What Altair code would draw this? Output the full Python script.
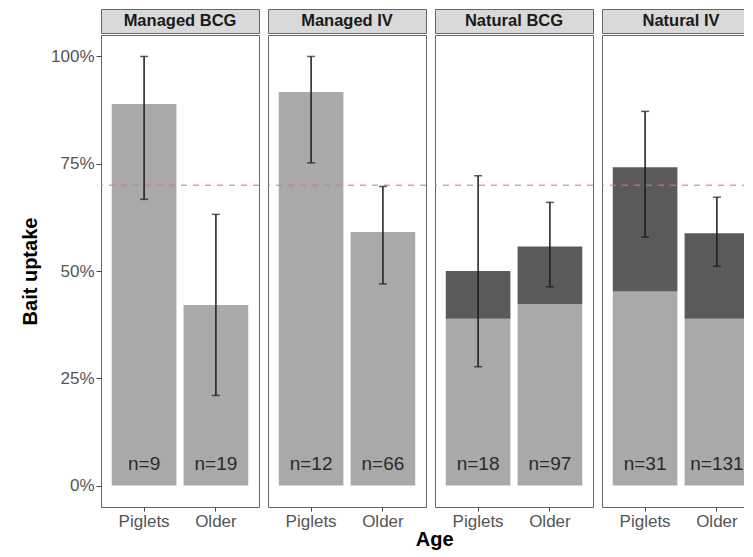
import altair as alt
import pandas as pd

# ---- data ----
panel_names = ["Managed BCG", "Managed IV", "Natural BCG", "Natural IV"]
age_groups = ["Piglets", "Older"]
panel_col = ["Managed BCG", "Managed BCG", "Managed IV", "Managed IV",
             "Natural BCG", "Natural BCG", "Natural IV", "Natural IV"]
age_col = ["Piglets", "Older"] * 4
uptake = [0.889, 0.421, 0.917, 0.591, 0.500, 0.557, 0.742, 0.588]
lower_part = [0.889, 0.421, 0.917, 0.591, 0.389, 0.423, 0.452, 0.389]
ci_low = [0.667, 0.210, 0.752, 0.470, 0.277, 0.463, 0.579, 0.511]
ci_high = [1.000, 0.632, 1.000, 0.697, 0.722, 0.660, 0.872, 0.672]
n_obs = [9, 19, 12, 66, 18, 97, 31, 131]
threshold = [0.70]
y_ticks = [0, 0.25, 0.5, 0.75, 1.0]

df = pd.DataFrame({
    "panel": panel_col, "age": age_col, "uptake": uptake, "lower": lower_part,
    "lo": ci_low, "hi": ci_high, "n": n_obs,
})
df["label"] = ["n=" + str(v) for v in df["n"]]
thr_df = pd.DataFrame({"t": threshold})

FONT = "Liberation Sans"
PW = 158      # panel width
PH = 472
STRIP_H = 24
BORDER = "#666666"
LIGHT = "#a9a9a9"
DARK = "#5a5a5a"


def make_panel(i, name):
    sub = df[df["panel"] == name]
    xscale = alt.Scale(domain=age_groups, paddingInner=0.1, paddingOuter=0.15)
    yscale = alt.Scale(domain=[-0.05, 1.05], nice=False, zero=False)
    if i == 0:
        yaxis = alt.Axis(format="%", values=y_ticks, title="Bait uptake", grid=False,
                         domain=False, tickSize=5, tickColor="#444",
                         labelFontSize=17, labelColor="#555", labelPadding=2,
                         titleFontSize=20, titleFontWeight="bold", titleColor="black",
                         titlePadding=10)
    else:
        yaxis = None
    xenc = alt.X("age:N", sort=age_groups, scale=xscale,
                 axis=alt.Axis(title=None, labelAngle=0, domain=False, grid=False,
                               tickSize=4, tickColor="#444", labelFontSize=17,
                               labelColor="#555", labelPadding=2))
    base = alt.Chart(sub).encode(x=xenc)
    light = base.mark_bar(color=LIGHT).encode(
        y=alt.Y("lower:Q", scale=yscale, axis=yaxis), y2=alt.datum(0))
    dark = base.mark_bar(color=DARK).encode(y="uptake:Q", y2="lower:Q")
    thr = alt.Chart(thr_df).mark_rule(color="#e8735a", opacity=0.7, strokeWidth=1.5,
                                      strokeDash=[6, 6]).encode(y="t:Q")
    err = base.mark_rule(color="#1a1a1a", strokeWidth=1.5).encode(y="lo:Q", y2="hi:Q")
    cap_lo = base.mark_tick(color="#1a1a1a", size=8, thickness=1.5).encode(y="lo:Q")
    cap_hi = base.mark_tick(color="#1a1a1a", size=8, thickness=1.5).encode(y="hi:Q")
    txt = base.mark_text(fontSize=19, color="#2a2a2a", baseline="middle").encode(
        y=alt.datum(0.05), text="label:N")
    main = alt.layer(light, dark, thr, err, cap_lo, cap_hi, txt).properties(
        width=PW, height=PH, view=alt.ViewBackground(fill="white", stroke=BORDER, strokeWidth=1))
    strip = alt.Chart(pd.DataFrame({"panel": [name]})).mark_text(
        fontSize=16.5, fontWeight="bold", color="#1a1a1a").encode(
        x=alt.X("panel:N", axis=None),
        text="panel:N").properties(
        width=PW, height=STRIP_H,
        view=alt.ViewBackground(fill="#d9d9d9", stroke=BORDER, strokeWidth=1))
    return alt.vconcat(strip, main, spacing=0)


cols = [make_panel(i, nm) for i, nm in enumerate(panel_names)]
# the right-hand panel runs past the page edge, as in the reference
chart = alt.hconcat(*cols, spacing=5).properties(
    title=alt.TitleParams("Age", orient="bottom", anchor="middle", fontSize=20,
                          fontWeight="bold", color="black", offset=0, dx=44),
    padding={"left": 12, "top": 0, "right": -18, "bottom": 0},
).configure(font=FONT)

chart.save("out.html", embed_options={"renderer": "svg", "actions": False})
